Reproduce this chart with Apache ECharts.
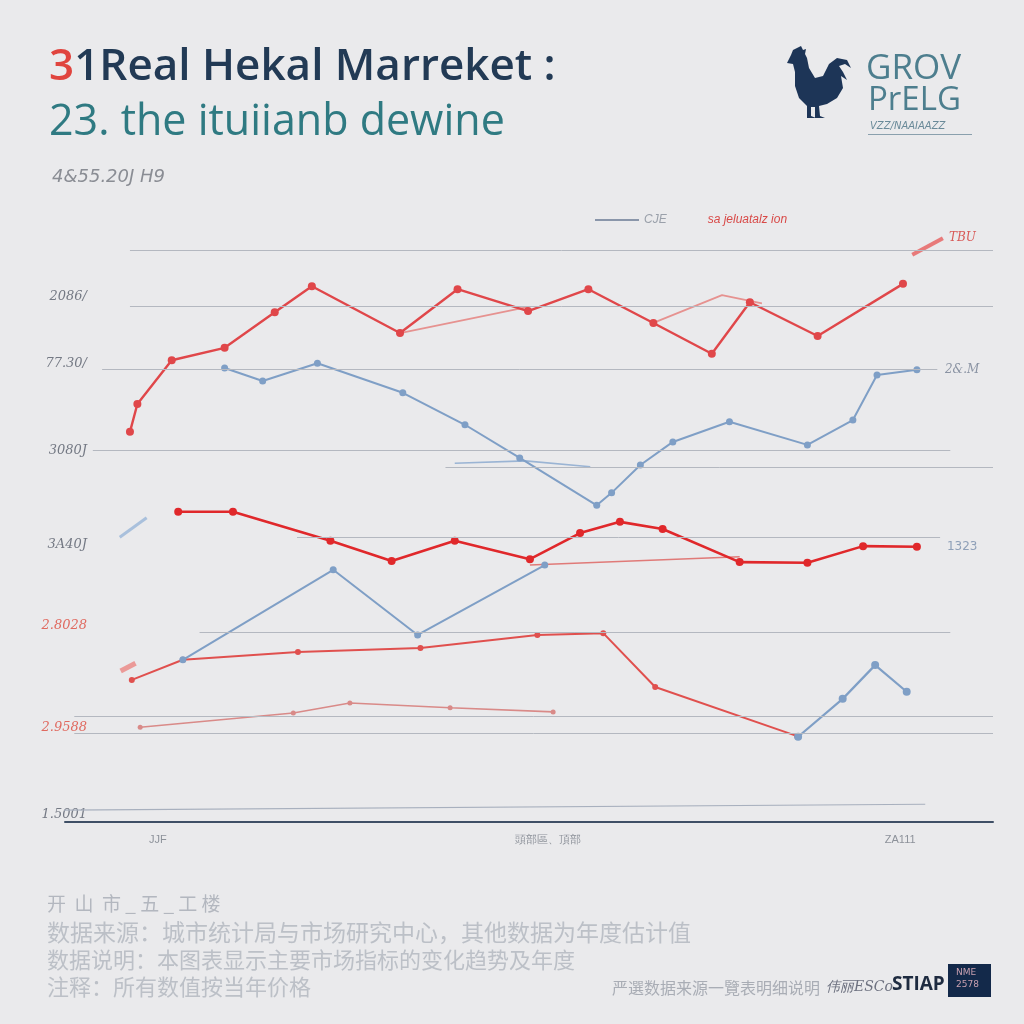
<!DOCTYPE html>
<html><head><meta charset="utf-8">
<script src="https://cdn.jsdelivr.net/npm/echarts@6/dist/echarts.min.js"></script>
<style>html,body{margin:0;padding:0;background:#eaeaec;}#c{width:1024px;height:1024px;}</style>
</head><body><div id="c"></div>
<script>
// ---------- data ----------
const xTickValues = [10, 52, 90];
const xTickLabels = ['JJF', '頭部區、頂部', 'ZA111'];
const yTickValues = [88.7, 77.4, 62.7, 46.8, 33.1, 16.0, 1.2];
const yTickLabels = ['2086/', '77.30/', '3080J', '3A40J', '2.8028', '2.9588', '1.5001'];
const yTickRed = [false, false, false, false, true, true, false];
// reference lines: [value, from x, to x]
const refLines = [[96.6, 7, 100], [87.2, 7, 100], [76.4, 4, 94], [62.8, 3, 95.4], [60.0, 41, 100],
  [48.1, 25, 94.3], [32.1, 14.5, 95.4], [17.9, 1, 100], [15.0, 1, 100]];
const seriesA = [[7.0,65.9],[7.8,70.6],[11.5,78.0],[17.2,80.1],[22.6,86.1],[26.6,90.5],[36.1,82.6],[42.3,90.0],[49.9,86.3],[56.4,90.0],[63.4,84.3],[69.7,79.1],[73.8,87.8],[81.1,82.1],[90.3,90.9]];
const seriesAghost = [[36.1,82.6],[49.9,87.0],'-',[63.4,84.3],[70.8,89.0],[75.1,87.6]];
const seriesC = [[17.2,76.7],[21.3,74.5],[27.2,77.5],[36.4,72.5],[43.1,67.1],[49.0,61.5],[57.3,53.5],[58.9,55.6],[62.0,60.3],[65.5,64.2],[71.6,67.6],[80.0,63.7],[84.9,67.9],[87.5,75.5],[91.8,76.4]];
const seriesCghost = [[42.0,60.6],[49.6,61.0],[56.6,60.0]];
const seriesD = [[12.2,52.4],[18.1,52.4],[28.6,47.5],[35.2,44.1],[42.0,47.5],[50.1,44.4],[55.5,48.8],[59.8,50.7],[64.4,49.5],[72.7,43.9],[80.0,43.8],[86.0,46.6],[91.8,46.5]];
const seriesDghost = [[50.1,43.4],[72.7,44.8]];
const seriesE1 = [[12.7,27.4],[28.9,42.6],[38.0,31.6],[51.7,43.4]];
const seriesE2 = [[79.0,14.4],[83.8,20.8],[87.3,26.5],[90.7,22.0]];
const seriesEstub = [[5.9,48.1],[8.8,51.4]];
const seriesF = [[7.2,24.0],[12.7,27.4],[25.1,28.7],[38.3,29.4],[50.9,31.6],[58.0,31.9],[63.6,22.8],[78.9,14.5]];
const seriesFstub = [[6.0,25.5],[7.6,26.8]];
const seriesG = [[8.1,16.0],[24.6,18.4],[30.7,20.1],[41.5,19.3],[52.6,18.6]];
const seriesH = [[-1,2.0],[92.7,3.0]];
const seriesTick = [[91.3,95.8],[94.6,98.6]];
const endLabels = { C: '2&.M', D: '1323', T: 'TBU' };
const legendNames = ['CJE', 'sa jeluatalz ion'];

// ---------- chart ----------
const chart = echarts.init(document.getElementById('c'), null, {renderer: 'canvas'});
const RED = '#e0474a', BLUE = '#7f9fc6';
function lineS(name, data, color, width, opts) {
  return Object.assign({
    type: 'line', name: name, data: data, showSymbol: true, symbol: 'circle', symbolSize: 6,
    itemStyle: {color: color}, lineStyle: {color: color, width: width}, z: 3, silent: true, animation: false
  }, opts || {});
}
// rooster silhouette outline (decoration), local coordinates
const roosterShape = [[12,2],[16,0],[18,4],[21,3],[20,8],[22,12],[24,22],[30,32],[38,30],[44,18],[52,12],[62,14],[66,22],[60,18],[54,20],[58,26],[62,34],[56,30],[58,42],[52,52],[42,58],[34,60],[35,70],[40,72],[30,72],[30,61],[26,61],[26,70],[31,72],[22,72],[22,60],[14,52],[10,40],[10,26],[8,18],[2,17],[4,13],[6,9],[8,4]];
const option = {
  backgroundColor: '#eaeaec',
  animation: false,
  title: [
    {text: '{r|3}{d|1Real Hekal Marreket :}', left: 44, top: 40,
      textStyle: {rich: {
        r: {fontFamily: 'Open Sans', fontSize: 44, fontWeight: 600, color: '#e0443e'},
        d: {fontFamily: 'Open Sans', fontSize: 44, fontWeight: 600, color: '#223a55'}}}},
    {text: '23. the ituiianb dewine', left: 44, top: 96,
      textStyle: {fontFamily: 'Open Sans', fontSize: 43, fontWeight: 500, color: '#2f7a82'}},
    {text: '4&55.20J H9', left: 47, top: 163,
      textStyle: {fontFamily: 'DejaVu Sans', fontSize: 18, fontStyle: 'italic', fontWeight: 'normal', color: '#8a8d94'}}
  ],
  legend: {
    left: 590, top: 209, itemGap: -8, itemWidth: 44, itemHeight: 2,
    data: [
      {name: legendNames[0], icon: 'rect', itemStyle: {color: '#8a96aa'}, textStyle: {color: '#9aa0aa', fontStyle: 'italic', fontSize: 12}},
      {name: legendNames[1], icon: 'none', textStyle: {color: '#d84a48', fontStyle: 'italic', fontSize: 12}}
    ],
    selectedMode: false
  },
  grid: {left: 65, right: 31, top: 230, bottom: 202},
  xAxis: {
    type: 'value', min: 0, max: 100,
    axisLine: {show: true, lineStyle: {color: '#3f4f66', width: 2}},
    axisTick: {show: false},
    splitLine: {show: false},
    axisLabel: {customValues: xTickValues, margin: 12, color: '#8d929a', fontSize: 11,
      formatter: function (v) { const i = xTickValues.indexOf(v); return i >= 0 ? xTickLabels[i] : ''; }}
  },
  yAxis: {
    type: 'value', min: 0, max: 100,
    axisLine: {show: false}, axisTick: {show: false}, splitLine: {show: false},
    axisLabel: {customValues: yTickValues, margin: -22, fontSize: 13, fontStyle: 'italic', fontFamily: 'DejaVu Serif',
      formatter: function (v) { const i = yTickValues.indexOf(v); if (i < 0) return ''; return (yTickRed[i] ? '{r|' : '{g|') + yTickLabels[i] + '}'; },
      rich: {r: {color: '#e06a60', fontSize: 13, fontStyle: 'italic', fontFamily: 'DejaVu Serif'},
             g: {color: '#747984', fontSize: 13, fontStyle: 'italic', fontFamily: 'DejaVu Serif'}}}
  },
  series: [
    {type: 'line', name: 'ref', data: [], silent: true, z: 1,
      markLine: {symbol: 'none', silent: true, label: {show: false},
        lineStyle: {color: '#b4b8c0', width: 1, type: 'solid'},
        data: refLines.map(r => [{coord: [r[1], r[0]]}, {coord: [r[2], r[0]]}])}},
    lineS('H', seriesH, '#a8b0be', 1.2, {showSymbol: false}),
    lineS('G', seriesG, '#d98a88', 1.6, {symbolSize: 5}),
    lineS('Fstub', seriesFstub, '#eb9a98', 5, {showSymbol: false}),
    lineS('F', seriesF, '#e0504e', 2, {symbolSize: 6}),
    lineS('E1', seriesE1, BLUE, 2, {symbolSize: 7}),
    lineS('E2', seriesE2, BLUE, 2.2, {symbolSize: 8}),
    lineS('Estub', seriesEstub, '#a9c0dc', 3, {showSymbol: false}),
    lineS('Dghost', seriesDghost, '#e07a78', 1.6, {showSymbol: false}),
    lineS(legendNames[1] + '_D', seriesD, '#e0282b', 2.6, {symbolSize: 8,
      endLabel: {show: true, formatter: endLabels.D, distance: 30, color: '#8fa0b8', fontSize: 12, fontFamily: 'DejaVu Sans'}}),
    lineS('Cghost', seriesCghost, '#9ab4d4', 1.6, {showSymbol: false}),
    lineS(legendNames[0], seriesC, BLUE, 2, {symbolSize: 7,
      endLabel: {show: true, formatter: endLabels.C, distance: 28, color: '#8a93a3', fontSize: 12, fontStyle: 'italic', fontFamily: 'DejaVu Serif'}}),
    lineS('Aghost', seriesAghost, '#e69290', 1.8, {showSymbol: false}),
    lineS(legendNames[1], seriesA, RED, 2.4, {symbolSize: 8}),
    lineS('T', seriesTick, '#e87a7a', 4, {showSymbol: false,
      endLabel: {show: true, formatter: endLabels.T, distance: 6, color: '#d85a58', fontSize: 12, fontStyle: 'italic', fontFamily: 'DejaVu Serif'}})
  ],
  graphic: [
    {type: 'polygon', silent: true, x: 785, y: 46, shape: {points: roosterShape}, style: {fill: '#1d3557'}},
    {type: 'text', left: 866, top: 52, silent: true, style: {text: 'GROV', fontSize: 35, fontFamily: 'Open Sans', fill: '#4d7e8e'}},
    {type: 'text', left: 868, top: 84, silent: true, style: {text: 'PrELG', fontSize: 33, fontFamily: 'Open Sans', fill: '#4d7e8e'}},
    {type: 'text', left: 870, top: 121, silent: true, style: {text: 'VZZ/NAAIAAZZ', fontSize: 10, fontStyle: 'italic', fontFamily: 'DejaVu Sans', fill: '#6a8a99'}},
    {type: 'rect', silent: true, shape: {x: 868, y: 134, width: 104, height: 1}, style: {fill: '#8aa0ad'}},
    {type: 'text', left: 47, top: 894, silent: true, style: {text: '开  山  市 _ 五 _ 工 楼', fontSize: 19, fontFamily: 'Noto Sans CJK SC', fill: '#b3b7bf'}},
    {type: 'text', left: 47, top: 921, silent: true, style: {text: '数据来源：城市统计局与市场研究中心，其他数据为年度估计值', fontSize: 23, fontFamily: 'Noto Sans CJK SC', fill: '#bcc0c7'}},
    {type: 'text', left: 47, top: 949, silent: true, style: {text: '数据说明：本图表显示主要市场指标的变化趋势及年度', fontSize: 22, fontFamily: 'Noto Sans CJK SC', fill: '#bcc0c7'}},
    {type: 'text', left: 47, top: 976, silent: true, style: {text: '注释：所有数值按当年价格', fontSize: 22, fontFamily: 'Noto Sans CJK SC', fill: '#bcc0c7'}},
    {type: 'text', left: 612, top: 980, silent: true, style: {text: '严選数据来源一覽表明细说明', fontSize: 16, fontFamily: 'Noto Sans CJK SC', fill: '#a9adb5'}},
    {type: 'text', left: 826, top: 980, silent: true, style: {text: '伟丽ESCo', fontSize: 14, fontStyle: 'italic', fontFamily: 'DejaVu Serif', fill: '#6e7280'}},
    {type: 'text', left: 892, top: 975, silent: true, style: {text: 'STIAP', fontSize: 19, fontWeight: 'bold', fontFamily: 'Open Sans', fill: '#1e2b40'}},
    {type: 'rect', silent: true, shape: {x: 948, y: 964, width: 43, height: 33}, style: {fill: '#13294a'}},
    {type: 'text', left: 956, top: 967, silent: true, style: {text: 'NME\n2578', fontSize: 9, lineHeight: 12, fontFamily: 'DejaVu Sans', fill: '#c9a0b0'}}
  ]
};
chart.setOption(option);
</script>
</body></html>
